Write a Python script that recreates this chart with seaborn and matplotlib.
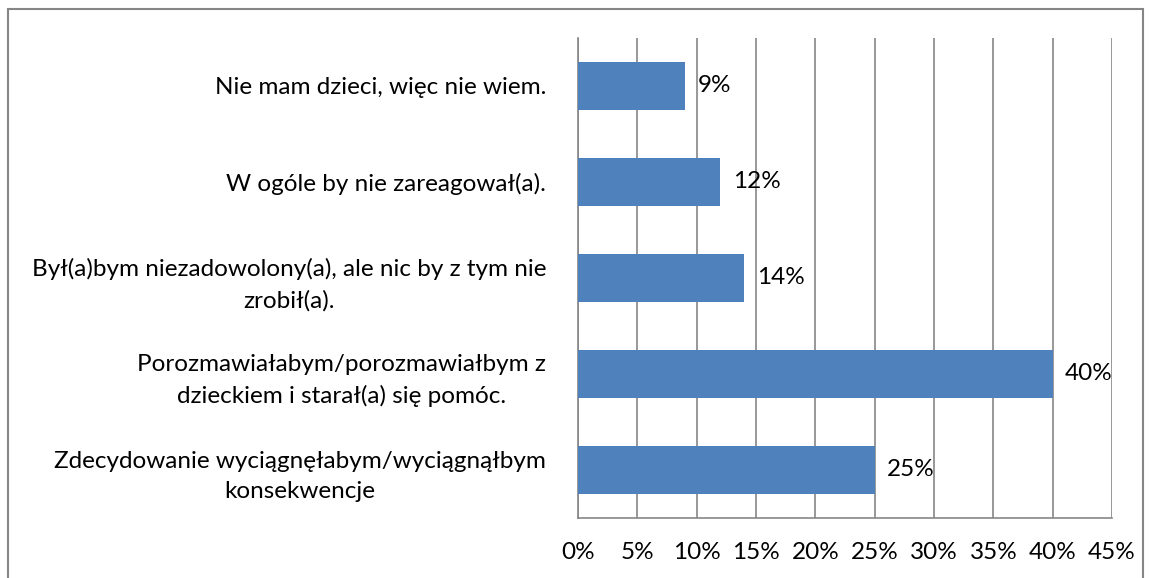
import matplotlib
matplotlib.use('Agg')
import matplotlib.pyplot as plt
import seaborn as sns
import pandas as pd
from matplotlib.patches import Rectangle

# survey answers, top to bottom as drawn
answers = [
    'Nie mam dzieci, więc nie wiem.',
    'W ogóle by nie zareagował(a).',
    'Był(a)bym niezadowolony(a), ale nic by z tym nie\nzrobił(a).',
    'Porozmawiałabym/porozmawiałbym z\ndzieckiem i starał(a) się pomóc.',
    'Zdecydowanie wyciągnęłabym/wyciągnąłbym\nkonsekwencje',
]
percent = [9, 12, 14, 40, 25]
xticks = [0, 5, 10, 15, 20, 25, 30, 35, 40, 45]

df = pd.DataFrame({'answer': answers, 'percent': percent})

sns.set_style('white')
plt.rcParams['font.family'] = ['Lato', 'DejaVu Sans']
fs = 17.5

fig = plt.figure(figsize=(11.51, 5.78), dpi=100)
ax = fig.add_axes([578 / 1151, 60 / 578, 534 / 1151, 480 / 578])

sns.barplot(data=df, x='percent', y='answer', orient='h', color='#4F81BD',
            saturation=1, width=0.5, linewidth=0, ax=ax, zorder=3)

ax.set_xlim(0, 45)
ax.set_xticks(xticks)
ax.set_xticklabels([f'{t}%' for t in xticks])
ax.set_yticks(range(len(answers)))
ax.set_yticklabels(answers)
ax.set_xlabel('')
ax.set_ylabel('')
ax.grid(axis='x', color='#868686', linewidth=1.2, zorder=0)
ax.set_axisbelow(True)

for s in ['top', 'right']:
    ax.spines[s].set_visible(False)
for s in ['left', 'bottom']:
    ax.spines[s].set_color('#868686')
    ax.spines[s].set_linewidth(1.2)

ax.tick_params(axis='x', length=0, pad=17, labelsize=fs, labelcolor='black')
ax.tick_params(axis='y', length=0, pad=23, labelsize=fs, labelcolor='black')
for lab in ax.get_yticklabels():
    lab.set_multialignment('center')
    lab.set_linespacing(1.55)

for i, v in enumerate(percent):
    ax.annotate(f'{v}%', xy=(v, i), xytext=(9, 0), textcoords='offset points',
                ha='left', va='center', fontsize=fs, color='black', zorder=4)

fig.patches.append(Rectangle((8 / 1151, -0.01), 1135 / 1151, (578 - 9) / 578 + 0.01,
                             transform=fig.transFigure, fill=False,
                             edgecolor='#868686', linewidth=1.5))

fig.savefig('out.png', dpi=100)
